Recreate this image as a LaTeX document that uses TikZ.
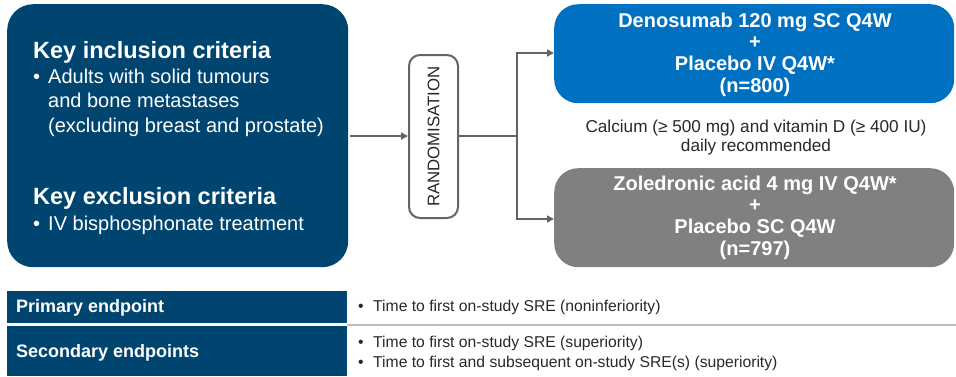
\documentclass[tikz,border=0pt]{standalone}
\usepackage{fontspec}
\setmainfont{Liberation Sans}
\definecolor{navy}{RGB}{0,69,112}
\definecolor{armblue}{RGB}{0,112,192}
\definecolor{armgray}{RGB}{128,128,128}
\definecolor{conn}{RGB}{100,100,100}
\definecolor{sep}{RGB}{190,190,190}
\definecolor{txtgray}{RGB}{40,40,40}
\usetikzlibrary{arrows.meta}
\begin{document}
\begin{tikzpicture}[x=1pt,y=-1pt,
  txt/.style={inner sep=0pt,anchor=base west,font=\fontsize{20}{24}\selectfont,text=white},
  head/.style={inner sep=0pt,anchor=base west,font=\bfseries\fontsize{23.5}{26}\selectfont,text=white},
  armtxt/.style={inner sep=0pt,anchor=base,font=\bfseries\fontsize{20}{21.7}\selectfont,text=white,align=center},
  arm/.style={rounded corners=24pt,minimum width=400pt,minimum height=99pt,anchor=north west,inner sep=0pt},
  conline/.style={draw=conn,line width=2pt},
  arr/.style={conline,-{Triangle[length=7pt,width=7pt]}},
  endlab/.style={fill=navy,anchor=north west,inner sep=0pt,minimum width=340pt},
  endtxt/.style={inner sep=0pt,anchor=base west,font=\fontsize{15.7}{20}\selectfont,text=txtgray},
  endhead/.style={inner sep=0pt,anchor=base west,font=\bfseries\fontsize{18}{20}\selectfont,text=white}]
\useasboundingbox (0,0) rectangle (956,376);
% criteria box
\node[fill=navy,rounded corners=26pt,minimum width=341pt,minimum height=263pt,anchor=north west,inner sep=0pt] (crit) at (7,4) {};
\node[head] (inchead) at (33,58) {Key inclusion criteria};
\node[txt] (inc1b) at (33,83) {\textbullet};
\node[txt] (inc1) at (48,83) {Adults with solid tumours};
\node[txt] (inc2) at (48,107.5) {and bone metastases};
\node[txt] (inc3) at (48,132) {(excluding breast and prostate)};
\node[head] (exchead) at (33,204) {Key exclusion criteria};
\node[txt] (exc1b) at (33,230) {\textbullet};
\node[txt] (exc1) at (48,230) {IV bisphosphonate treatment};
% randomisation
\node[draw=conn,line width=2pt,rounded corners=11pt,minimum width=49pt,minimum height=163pt,anchor=north west,inner sep=0pt] (rand) at (408,54) {};
\node[rotate=90,inner sep=0pt,font=\fontsize{16.8}{18}\selectfont,text=txtgray] (randtxt) at (rand.center) {RANDOMISATION};
% arms
\node[arm,fill=armblue] (den) at (554,4) {};
\node[arm,fill=armgray,minimum height=99pt] (zol) at (554,168) {};
\node[armtxt] (den1) at (755,27) {Denosumab 120 mg SC Q4W};
\node[armtxt] (den2) at (755,48.5) {+};
\node[armtxt] (den3) at (755,70) {Placebo IV Q4W*};
\node[armtxt] (den4) at (755,92) {(n=800)};
\node[armtxt] (zol1) at (755,190) {Zoledronic acid 4 mg IV Q4W*};
\node[armtxt] (zol2) at (755,211.5) {+};
\node[armtxt] (zol3) at (755,233) {Placebo SC Q4W};
\node[armtxt] (zol4) at (755,255) {(n=797)};
\node[inner sep=0pt,anchor=base,font=\fontsize{17.2}{18}\selectfont,text=txtgray] (calc1) at (756,132) {Calcium (≥ 500 mg) and vitamin D (≥ 400 IU)};
\node[inner sep=0pt,anchor=base,font=\fontsize{17.2}{18}\selectfont,text=txtgray] (calc2) at (756,151) {daily recommended};
% connectors
\coordinate (split) at (517,136);
\draw[arr] (crit.east |- 0,136) ++(2,0) coordinate (critout) -- (rand.west |- critout);
\draw[conline] (rand.east |- split) -- (split);
\draw[arr] (split) |- (den.west |- 0,53);
\draw[arr] (split) |- (zol.west |- 0,219);
% endpoints
\node[endlab,minimum height=32pt] (prim) at (7,291) {};
\node[endlab,minimum height=50pt] (sec) at (7,326) {};
\node[endhead] (primtxt) at (16,312) {Primary endpoint};
\node[endhead] (sectxt) at (16,357) {Secondary endpoints};
\coordinate (sepstart) at (347,324.5);
\coordinate (sepend) at (956,324.5);
\draw[sep,line width=2pt] (sepstart) -- (sepend);
\node[endtxt] (p1b) at (358,311) {\textbullet};
\node[endtxt] (p1) at (373,311) {Time to first on-study SRE (noninferiority)};
\node[endtxt] (s1b) at (358,347) {\textbullet};
\node[endtxt] (s1) at (373,347) {Time to first on-study SRE (superiority)};
\node[endtxt] (s2b) at (358,367) {\textbullet};
\node[endtxt] (s2) at (373,367) {Time to first and subsequent on-study SRE(s) (superiority)};
\end{tikzpicture}
\end{document}
